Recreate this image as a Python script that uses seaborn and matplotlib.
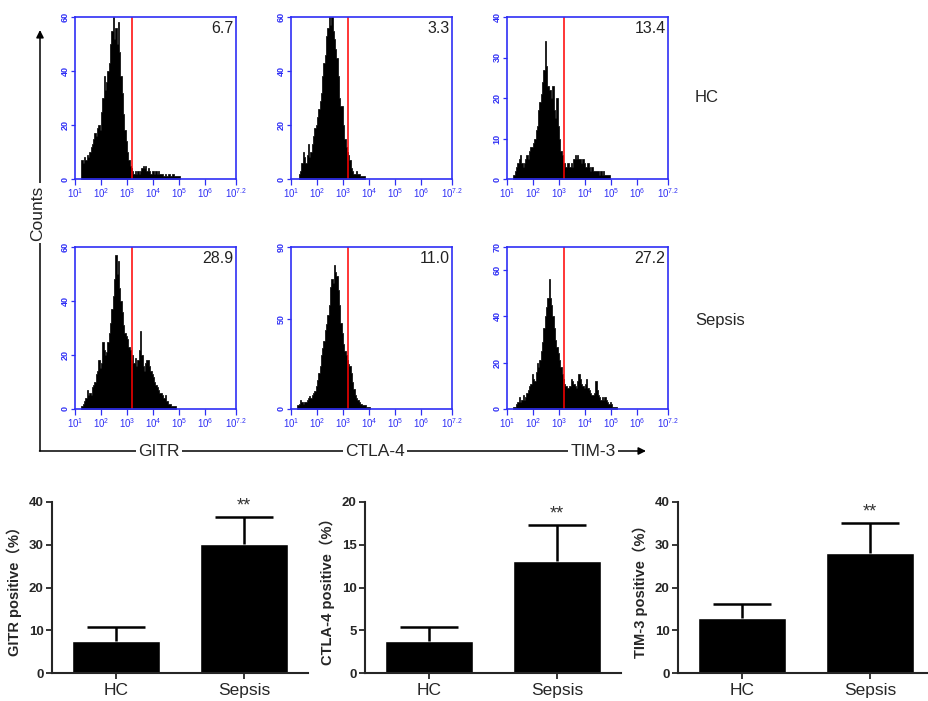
import numpy as np
import pandas as pd
import matplotlib
matplotlib.use("Agg")
import matplotlib.pyplot as plt
import matplotlib.ticker as mticker
import seaborn as sns

# ---- flow cytometry histograms (counts per 0.05-decade bin) ----
bin_w = 0.05
gate_log = 3.2
markers = ["GITR", "CTLA-4", "TIM-3"]
groups = ["HC", "Sepsis"]

hc_gitr_start = 1.25
hc_gitr_counts = [7, 6, 8, 7, 9, 8, 10, 12, 13, 15, 17, 16, 19, 20, 18, 25, 30, 38, 33, 36,
                  40, 43, 50, 55, 60, 52, 56, 50, 58, 47, 38, 32, 24, 18, 14, 10, 7, 5, 4, 3,
                  2, 3, 2, 3, 2, 3, 4, 5, 4, 5, 3, 4, 3, 2, 3, 3, 2, 3, 2, 3,
                  2, 2, 2, 1, 2, 1, 1, 2, 1, 1, 2, 1, 1, 1, 1, 1]

hc_ctla4_start = 1.30
hc_ctla4_counts = [2, 3, 6, 10, 8, 6, 9, 13, 8, 10, 13, 16, 19, 20, 23, 26, 29, 32, 38, 43,
                   46, 53, 56, 60, 57, 60, 55, 52, 48, 45, 38, 30, 27, 27, 20, 15, 12, 10, 9, 7,
                   4, 3, 2, 2, 3, 2, 2, 1, 1, 1, 1]

hc_tim3_start = 1.25
hc_tim3_counts = [1, 2, 3, 4, 5, 6, 4, 3, 4, 5, 6, 5, 7, 8, 8, 9, 10, 12, 13, 17,
                  19, 21, 24, 27, 34, 28, 23, 22, 22, 20, 23, 17, 15, 20, 13, 10, 7, 6, 4, 4,
                  3, 4, 4, 3, 4, 3, 5, 6, 5, 6, 5, 5, 4, 5, 4, 3, 3, 4, 3, 2,
                  3, 2, 2, 2, 2, 2, 1, 2, 1, 2, 1, 1, 1, 1]

sepsis_gitr_start = 1.25
sepsis_gitr_counts = [1, 2, 3, 4, 7, 5, 6, 5, 8, 9, 10, 13, 14, 18, 15, 17, 25, 22, 20, 21,
                      25, 28, 32, 37, 42, 48, 57, 50, 55, 45, 40, 36, 31, 28, 27, 26, 23, 22, 18, 20,
                      17, 19, 16, 18, 22, 29, 20, 16, 14, 17, 18, 18, 16, 14, 13, 12, 10, 9, 8, 7,
                      6, 6, 5, 4, 5, 3, 3, 2, 2, 1, 1, 1, 1]

sepsis_ctla4_start = 1.25
sepsis_ctla4_counts = [2, 3, 5, 4, 3, 4, 4, 5, 6, 7, 6, 8, 9, 10, 13, 16, 20, 24, 30, 34,
                       38, 44, 47, 52, 58, 68, 72, 70, 80, 76, 74, 66, 58, 48, 42, 36, 32, 30, 27, 25,
                       24, 20, 15, 11, 8, 6, 5, 4, 3, 3, 2, 2, 2, 1, 1, 1]

sepsis_tim3_start = 1.25
sepsis_tim3_counts = [1, 1, 2, 3, 5, 3, 4, 6, 4, 5, 7, 8, 10, 11, 15, 13, 12, 16, 20, 18,
                      21, 25, 29, 35, 40, 44, 48, 56, 48, 45, 40, 35, 30, 27, 24, 21, 18, 15, 13, 11,
                      10, 9, 9, 10, 13, 12, 11, 10, 9, 12, 15, 13, 11, 10, 9, 11, 13, 9, 8, 7,
                      6, 6, 7, 12, 8, 6, 5, 4, 5, 4, 5, 4, 3, 2, 3, 2, 1, 1, 1, 1]

hist_counts = {
    ("HC", "GITR"): (hc_gitr_start, hc_gitr_counts),
    ("HC", "CTLA-4"): (hc_ctla4_start, hc_ctla4_counts),
    ("HC", "TIM-3"): (hc_tim3_start, hc_tim3_counts),
    ("Sepsis", "GITR"): (sepsis_gitr_start, sepsis_gitr_counts),
    ("Sepsis", "CTLA-4"): (sepsis_ctla4_start, sepsis_ctla4_counts),
    ("Sepsis", "TIM-3"): (sepsis_tim3_start, sepsis_tim3_counts),
}

hc_pct = ["6.7", "3.3", "13.4"]
sepsis_pct = ["28.9", "11.0", "27.2"]
hc_yticks = [[0, 20, 40, 60], [0, 20, 40, 60], [0, 10, 20, 30, 40]]
sepsis_yticks = [[0, 20, 40, 60], [0, 50, 90], [0, 20, 40, 60, 70]]
x_decades = [1, 2, 3, 4, 5, 6, 7.2]

# ---- bar charts (mean, upper error) ----
bar_groups = ["HC", "Sepsis"]
gitr_mean = [7.5, 30.2]
gitr_err = [3.3, 6.3]
ctla4_mean = [3.8, 13.1]
ctla4_err = [1.6, 4.2]
tim3_mean = [12.9, 28.0]
tim3_err = [3.2, 7.1]
gitr_yticks = [0, 10, 20, 30, 40]
ctla4_yticks = [0, 5, 10, 15, 20]
tim3_yticks = [0, 10, 20, 30, 40]

sns.set_style("ticks")
plt.rcParams["font.family"] = ["Liberation Sans", "Noto Sans CJK SC", "DejaVu Sans"]
plt.rcParams["mathtext.fontset"] = "custom"
plt.rcParams["mathtext.rm"] = "Liberation Sans"

W, H = 929, 701
BLUE = "#2f2ff5"
fig = plt.figure(figsize=(W / 100, H / 100), dpi=100)


def px_box(left, top, right, bottom):
    return [left / W, 1 - bottom / H, (right - left) / W, (bottom - top) / H]


hist_left = [75, 291, 507]
hist_top = [17, 247]
for r, g in enumerate(groups):
    pcts = hc_pct if g == "HC" else sepsis_pct
    yts = hc_yticks if g == "HC" else sepsis_yticks
    for c, m in enumerate(markers):
        ax = fig.add_axes(px_box(hist_left[c], hist_top[r], hist_left[c] + 161, hist_top[r] + 162))
        start, counts = hist_counts[(g, m)]
        edges = start + bin_w * np.arange(len(counts) + 1)
        centers = edges[:-1] + bin_w / 2
        df = pd.DataFrame({"intensity": 10 ** centers, "count": counts})
        sns.histplot(data=df, x="intensity", weights="count", bins=list(edges), log_scale=True,
                     element="step", fill=True, color="black", alpha=1, linewidth=0.5, ax=ax)
        ax.set_xlim(10, 10 ** 7.2)
        ax.set_ylim(0, yts[c][-1])
        ax.axvline(10 ** gate_log, color="red", lw=1.1)
        ax.set_xticks([10 ** d for d in x_decades])
        ax.set_xticklabels([f"$10^{{{d}}}$" for d in x_decades])
        ax.xaxis.set_minor_formatter(mticker.NullFormatter())
        ax.set_yticks(yts[c])
        ax.set_yticklabels([str(v) for v in yts[c]], rotation=90, va="center",
                           fontweight="bold")
        ax.tick_params(axis="both", which="both", colors=BLUE, direction="out",
                       labelsize=6.5, width=0.9)
        ax.tick_params(axis="x", which="major", length=4, pad=1.5, labelsize=7)
        ax.tick_params(axis="x", which="minor", length=4)
        ax.tick_params(axis="y", length=3, pad=1)
        for s in ax.spines.values():
            s.set_color(BLUE)
            s.set_linewidth(1.2)
        ax.set_xlabel("")
        ax.set_ylabel("")
        ax.text(0.985, 0.975, pcts[c], transform=ax.transAxes, ha="right", va="top",
                fontsize=11.5, color="#222222")

bar_specs = [("GITR", gitr_mean, gitr_err, gitr_yticks, 52),
             ("CTLA-4", ctla4_mean, ctla4_err, ctla4_yticks, 365),
             ("TIM-3", tim3_mean, tim3_err, tim3_yticks, 678)]
for name, means, errs, yts, left in bar_specs:
    ax = fig.add_axes(px_box(left, 502, left + 256, 673))
    df = pd.DataFrame({"group": bar_groups, "value": means})
    sns.barplot(data=df, x="group", y="value", color="black", saturation=1, width=0.68,
                errorbar=None, ax=ax)
    tops = [mv + e for mv, e in zip(means, errs)]
    # upper-only error bars: stem from the bar top, cap at mean + error
    ax.errorbar(x=[0, 1], y=means, yerr=[[0, 0], errs], fmt="none", ecolor="black",
                elinewidth=1.8, capsize=0)
    ax.errorbar(x=[0, 1], y=tops, xerr=0.23, fmt="none", ecolor="black",
                elinewidth=1.8, capsize=0)
    ax.annotate("**", xy=(1, tops[1]), xytext=(0, 2), textcoords="offset points",
                ha="center", va="bottom", fontsize=13, color="#333333")
    ax.set_xlim(-0.5, 1.5)
    ax.set_ylim(0, yts[-1])
    ax.set_yticks(yts)
    ax.set_yticklabels([str(v) for v in yts], fontweight="bold", fontsize=9.5)
    ax.tick_params(axis="x", labelsize=12.5, length=4, width=1.3, pad=3)
    ax.tick_params(axis="y", length=4, width=1.3, pad=2)
    ax.set_xlabel("")
    ax.set_ylabel(f"{name} positive（%）", fontweight="bold", fontsize=10.5, labelpad=5)
    sns.despine(ax=ax)
    for s in ["left", "bottom"]:
        ax.spines[s].set_linewidth(1.5)

# ---- overlay: big axis arrows and labels ----
ov = fig.add_axes([0, 0, 1, 1], zorder=-1)
ov.set_xlim(0, W)
ov.set_ylim(H, 0)
ov.set_axis_off()
arrow = dict(arrowstyle="-|>", color="black", lw=1.1, mutation_scale=11, shrinkA=0, shrinkB=0)
ov.annotate("", xy=(40, 30), xytext=(40, 451), arrowprops=arrow)
ov.annotate("", xy=(646, 451), xytext=(39.5, 451), arrowprops=arrow)
box = dict(facecolor="white", edgecolor="none", pad=1.5)
ov.text(38, 213, "Counts", rotation=90, ha="center", va="center", fontsize=12.5, bbox=box)
for x, m in zip([159, 375, 593], markers):
    ov.text(x, 451, m, ha="center", va="center", fontsize=12.5, bbox=box)
ov.text(695, 97, "HC", ha="left", va="center", fontsize=12)
ov.text(695, 321, "Sepsis", ha="left", va="center", fontsize=12)

fig.savefig("out.png", dpi=100)
